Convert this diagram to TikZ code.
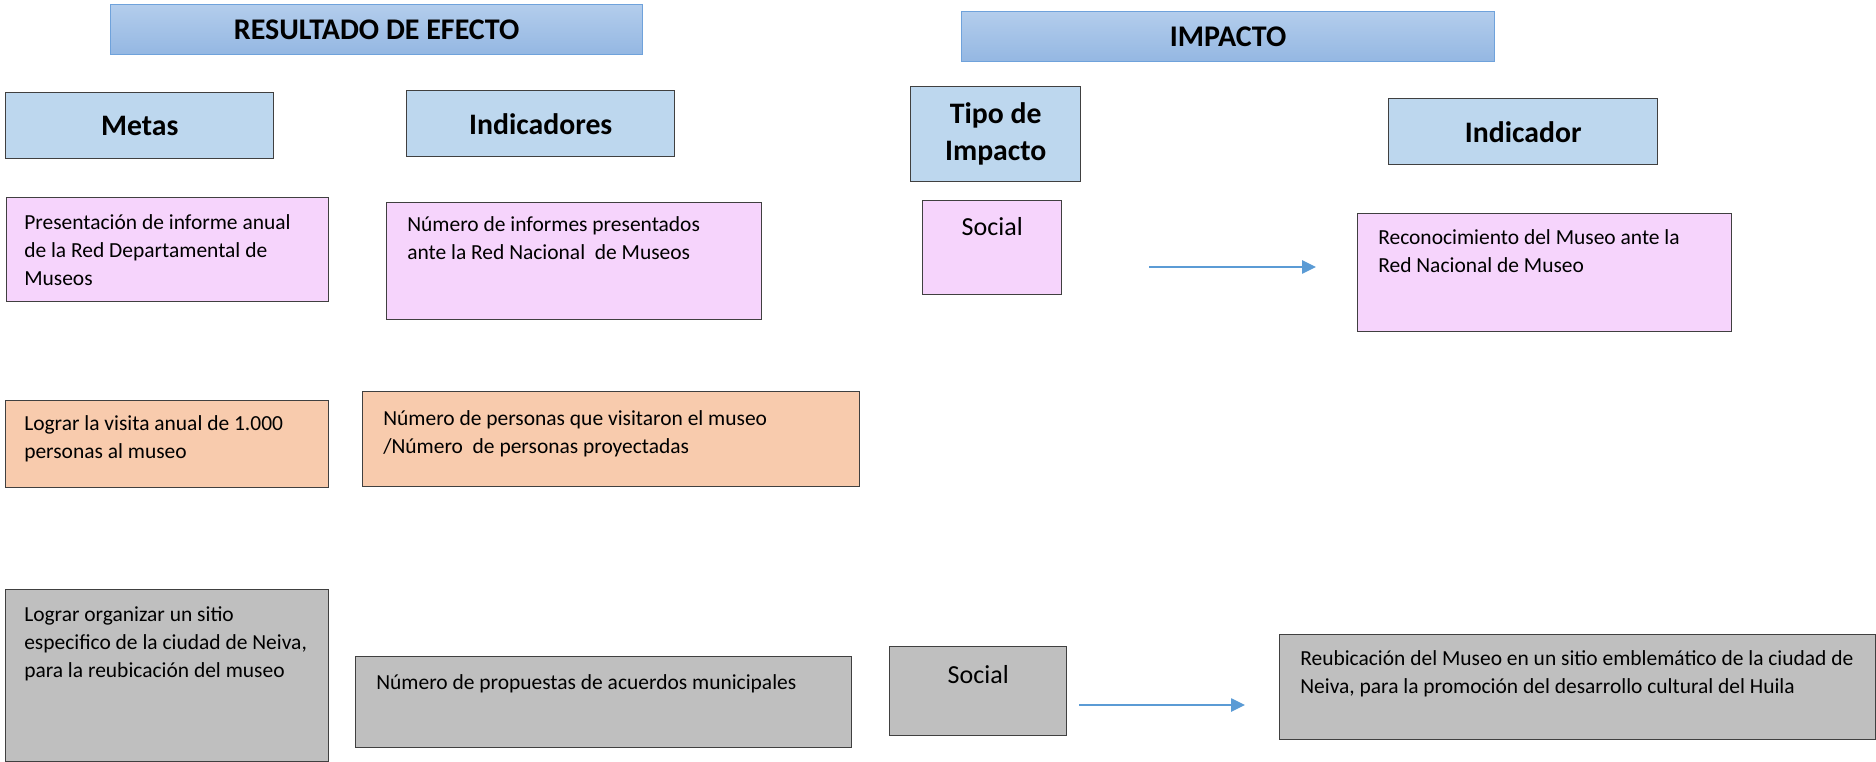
\documentclass[tikz,border=0pt]{standalone}
\usepackage{fontspec}
\setmainfont{Carlito}
\usetikzlibrary{arrows.meta,shadows}
\definecolor{hdrtop}{HTML}{B3CDEC}
\definecolor{hdrbot}{HTML}{94B7E2}
\definecolor{hdrline}{HTML}{6FA2DB}
\definecolor{colhead}{HTML}{BDD7EE}
\definecolor{pinkfill}{HTML}{F6D4FC}
\definecolor{peachfill}{HTML}{F8CBAD}
\definecolor{grayfill}{HTML}{BFBFBF}
\definecolor{edgecol}{HTML}{404040}
\definecolor{arrowblue}{HTML}{5B9BD5}
\newcommand\mybox[7]{\node[#6, anchor=north west, minimum width={(#4-#2)*0.75pt}, minimum height={(#5-#3)*0.75pt}] (#1) at (#2,#3) {#7};}
\tikzset{
  bigbox/.style={draw=hdrline, line width=0.9pt, top color=hdrtop, bottom color=hdrbot, inner sep=0pt, align=center, font=\fontsize{22.5}{27}\selectfont\bfseries},
  colbox/.style={draw=edgecol, line width=1.1pt, fill=colhead, inner sep=0pt, align=center, font=\fontsize{22.3}{27.75}\selectfont\bfseries},
  pinkbox/.style={draw=edgecol, line width=1.1pt, fill=pinkfill, inner sep=0pt},
  peachbox/.style={draw=edgecol, line width=1.1pt, fill=peachfill, inner sep=0pt},
  graybox/.style={draw=edgecol, line width=1.1pt, fill=grayfill, inner sep=0pt},
  bodytxt/.style={anchor=north west, inner sep=0pt, align=left, font=\fontsize{16.1}{21}\selectfont},
  socialtxt/.style={anchor=base, inner sep=0pt, font=\fontsize{19.5}{24}\selectfont},
  flowarrow/.style={draw=arrowblue, line width=1.1pt, -{Triangle[length=10.5pt,width=10pt]}}
}
\begin{document}
\begin{tikzpicture}[x=0.75pt,y=-0.75pt]
\useasboundingbox (0,0) rectangle (1876,762);
% headers
\mybox{res}{110}{4}{642}{54}{bigbox}{RESULTADO DE EFECTO}
\mybox{imp}{961}{11}{1494}{61}{bigbox}{IMPACTO}
\mybox{metas}{5}{92}{273}{158}{colbox}{Metas}
\mybox{indics}{406}{90}{674}{156}{colbox}{Indicadores}
\mybox{tipo}{910}{86}{1080}{181}{colbox}{Tipo de\\Impacto}
\mybox{indic}{1388}{98}{1657}{164}{colbox}{Indicador}
% row 1
\mybox{b1}{6}{197}{328}{301}{pinkbox}{}
\node[bodytxt] (t1) at ([shift={(18,13)}]b1.north west) {\strut Presentación de informe anual\\de la Red Departamental de\\Museos};
\mybox{b2}{386}{202}{761}{319}{pinkbox}{}
\node[bodytxt] (t2) at ([shift={(21,10)}]b2.north west) {\strut Número de informes presentados\\ante la Red Nacional\ \ de Museos};
\mybox{s1}{922}{200}{1061}{294}{pinkbox}{}
\node[socialtxt] (st1) at ([shift={(0,36)}]s1.north) {Social};
\mybox{b3}{1357}{213}{1731}{331}{pinkbox}{}
\node[bodytxt] (t3) at ([shift={(21,12)}]b3.north west) {\strut Reconocimiento del Museo ante la\\Red Nacional de Museo};
\coordinate (a1s) at (1149,267);
\coordinate (a1e) at (1316,267);
\draw[flowarrow] (a1s) -- (a1e);
% row 2
\mybox{b4}{5}{400}{328}{487}{peachbox}{}
\node[bodytxt] (t4) at ([shift={(19,11)}]b4.north west) {\strut Lograr la visita anual de 1.000\\personas al museo};
\mybox{b5}{362}{391}{859}{486}{peachbox}{}
\node[bodytxt] (t5) at ([shift={(21,15)}]b5.north west) {\strut Número de personas que visitaron el museo\\/Número\ \ de personas proyectadas};
% row 3
\mybox{b6}{5}{589}{328}{761}{graybox}{}
\node[bodytxt] (t6) at ([shift={(19,13)}]b6.north west) {\strut Lograr organizar un sitio\\especifico de la ciudad de Neiva,\\para la reubicación del museo};
\mybox{b7}{355}{656}{851}{747}{graybox}{}
\node[bodytxt, anchor=base west] (t7) at ([shift={(21,33)}]b7.north west) {Número de propuestas de acuerdos municipales};
\mybox{s2}{889}{646}{1066}{735}{graybox}{}
\node[socialtxt] (st2) at ([shift={(0,37)}]s2.north) {Social};
\mybox{b8}{1279}{634}{1875}{739}{graybox}{}
\node[bodytxt] (t8) at ([shift={(21,12)}]b8.north west) {\strut Reubicación del Museo en un sitio emblemático de la ciudad de\\Neiva, para la promoción del desarrollo cultural del Huila};
\coordinate (a2s) at (1079,705);
\coordinate (a2e) at (1245,705);
\draw[flowarrow] (a2s) -- (a2e);
\end{tikzpicture}
\end{document}
